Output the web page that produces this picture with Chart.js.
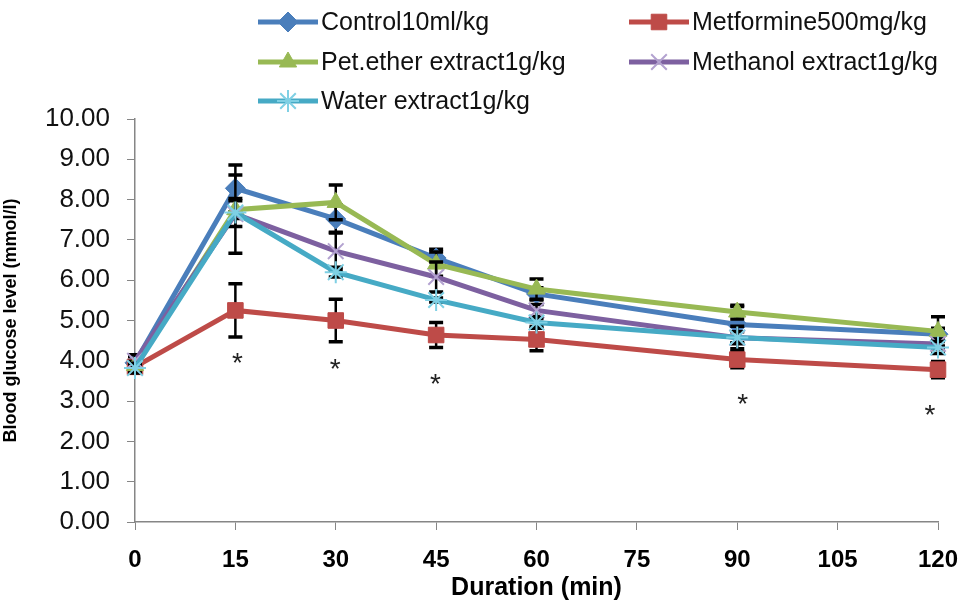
<!DOCTYPE html>
<html>
<head>
<meta charset="utf-8">
<title>Blood glucose level</title>
<script src="https://cdn.jsdelivr.net/npm/chart.js@4/dist/chart.umd.min.js"></script>
<style>
    html, body { margin: 0; padding: 0; background: #fff; }
    #wrap { width: 958px; height: 603px; position: relative; }
</style>
</head>
<body>
<div id="wrap"><canvas id="glucoseChart"></canvas></div>
<script>
// Durée (min) des mesures
const durations = [0, 15, 30, 45, 60, 90, 120];
const xTicks = [0, 15, 30, 45, 60, 75, 90, 105, 120];

const seriesNames = [
    'Control10ml/kg',
    'Metformine500mg/kg',
    'Pet.ether extract1g/kg',
    'Methanol extract1g/kg',
    'Water extract1g/kg'
];

// Glycémie moyenne (mmol/l)
const controlValues   = [3.95, 8.28, 7.52, 6.55, 5.66, 4.90, 4.66];
const metforminValues = [3.85, 5.25, 5.00, 4.64, 4.53, 4.03, 3.78];
const petEtherValues  = [3.88, 7.75, 7.93, 6.40, 5.78, 5.21, 4.73];
const methanolValues  = [4.00, 7.64, 6.72, 6.08, 5.25, 4.57, 4.42];
const waterValues     = [3.82, 7.68, 6.20, 5.51, 4.95, 4.58, 4.33];

// Barres d'erreur (+/-)
const controlErr   = [0.15, 0.58, 0.35, 0.22, 0.15, 0.45, 0.15];
const metforminErr = [0.15, 0.66, 0.53, 0.31, 0.28, 0.20, 0.20];
const petEtherErr  = [0.10, 0.22, 0.43, 0.30, 0.25, 0.17, 0.36];
const methanolErr  = [0.15, 0.97, 0.47, 0.37, 0.15, 0.15, 0.12];
const waterErr     = [0.12, 0.35, 0.12, 0.05, 0.10, 0.28, 0.15];

// Astérisques (différence significative)
const starX = [15.3, 29.9, 44.9, 90.8, 118.8];
const starY = [4.12, 3.97, 3.60, 3.10, 2.83];

const allValues = [controlValues, metforminValues, petEtherValues, methanolValues, waterValues];
const allErrors = [controlErr, metforminErr, petEtherErr, methanolErr, waterErr];
const colors = ['#4a7ebb', '#be4b48', '#98b954', '#7d60a0', '#46aac5'];
const markerColors = ['#4a7ebb', '#be4b48', '#98b954', '#b3a2d0', '#7fd0e4'];
const markers = ['rectRot', 'rect', 'triangle', 'crossRot', 'star'];
const markerSizes = [10, 11, 10, 11, 11];

const datasets = seriesNames.map((name, i) => ({
    label: name,
    data: durations.map((d, j) => ({ x: d, y: allValues[i][j] })),
    errors: allErrors[i],
    borderColor: colors[i],
    backgroundColor: markerColors[i],
    borderWidth: 5,
    pointStyle: markers[i],
    pointRadius: markerSizes[i],
    pointBackgroundColor: markerColors[i],
    pointBorderColor: markerColors[i],
    pointBorderWidth: i >= 3 ? 2 : 1,
    tension: 0,
    clip: false,
    // Excel dessine la dernière série par-dessus
    order: seriesNames.length - i
}));

const FONT = "'Liberation Sans', Arial, sans-serif";

// Barres d'erreur dessinées juste avant chaque série
const errorBarsPlugin = {
    id: 'errorBars',
    beforeDatasetDraw(chart, args) {
        const ds = chart.data.datasets[args.index];
        if (!ds.errors) return;
        const ctx = chart.ctx;
        const xs = chart.scales.x;
        const ys = chart.scales.y;
        ctx.save();
        ctx.strokeStyle = '#000';
        ds.data.forEach((p, j) => {
            const e = ds.errors[j];
            const px = xs.getPixelForValue(p.x);
            const top = ys.getPixelForValue(p.y + e);
            const bottom = ys.getPixelForValue(p.y - e);
            ctx.lineWidth = 2.5;
            ctx.beginPath();
            ctx.moveTo(px, top);
            ctx.lineTo(px, bottom);
            ctx.stroke();
            ctx.lineWidth = 3.5;
            ctx.beginPath();
            ctx.moveTo(px - 7, top);
            ctx.lineTo(px + 7, top);
            ctx.moveTo(px - 7, bottom);
            ctx.lineTo(px + 7, bottom);
            ctx.stroke();
        });
        ctx.restore();
    }
};

// Astérisques + légende sur deux colonnes
const extrasPlugin = {
    id: 'extras',
    afterDraw(chart) {
        const ctx = chart.ctx;
        const xs = chart.scales.x;
        const ys = chart.scales.y;
        ctx.save();

        ctx.fillStyle = '#222';
        ctx.font = '28px ' + FONT;
        ctx.textAlign = 'center';
        ctx.textBaseline = 'alphabetic';
        starX.forEach((sx, k) => {
            ctx.fillText('*', xs.getPixelForValue(sx), ys.getPixelForValue(starY[k]) + 16);
        });

        const colX = [258, 629];
        const rowY = [22, 62, 101];
        chart.data.datasets.forEach((ds, i) => {
            const x0 = colX[i % 2];
            const y = rowY[Math.floor(i / 2)];
            ctx.strokeStyle = ds.borderColor;
            ctx.lineWidth = 5;
            ctx.beginPath();
            ctx.moveTo(x0, y);
            ctx.lineTo(x0 + 60, y);
            ctx.stroke();
            ctx.fillStyle = ds.pointBackgroundColor;
            ctx.strokeStyle = ds.pointBorderColor;
            ctx.lineWidth = ds.pointBorderWidth;
            Chart.helpers.drawPoint(ctx, {
                pointStyle: ds.pointStyle,
                radius: ds.pointRadius,
                rotation: 0,
                borderWidth: ds.pointBorderWidth
            }, x0 + 30, y);
            ctx.fillStyle = '#111';
            ctx.font = '25px ' + FONT;
            ctx.textAlign = 'left';
            ctx.textBaseline = 'middle';
            ctx.fillText(ds.label, x0 + 63, y + 1);
        });
        ctx.restore();
    }
};

const ctx = document.getElementById('glucoseChart').getContext('2d');
new Chart(ctx, {
    type: 'line',
    data: { datasets: datasets },
    plugins: [errorBarsPlugin, extrasPlugin],
    options: {
        responsive: true,
        maintainAspectRatio: false,
        animation: false,
        layout: { padding: { top: 119, right: 20, left: 0, bottom: 0 } },
        plugins: {
            legend: { display: false },
            tooltip: { enabled: false }
        },
        scales: {
            x: {
                type: 'linear',
                min: 0,
                max: 120,
                afterBuildTicks: (scale) => {
                    scale.ticks = xTicks.map(v => ({ value: v }));
                },
                afterFit: (scale) => {
                    scale.height = 81;
                    // le padding des ticks ne doit pas rogner la zone à droite
                    scale.paddingLeft = 0;
                    scale.paddingRight = 20;
                },
                grid: {
                    drawOnChartArea: false,
                    drawTicks: true,
                    tickLength: 8,
                    color: '#868686'
                },
                border: { color: '#868686', width: 1.5 },
                ticks: {
                    padding: 16,
                    color: '#000',
                    font: { family: FONT, size: 24, weight: 'bold' }
                },
                title: {
                    display: true,
                    text: 'Duration (min)',
                    color: '#000',
                    padding: { top: 0, bottom: 0 },
                    font: { family: FONT, size: 25, weight: 'bold' }
                }
            },
            y: {
                min: 0,
                max: 10,
                afterFit: (scale) => { scale.width = 135; },
                grid: {
                    drawOnChartArea: false,
                    drawTicks: true,
                    tickLength: 8,
                    color: '#868686'
                },
                border: { color: '#868686', width: 1.5 },
                ticks: {
                    stepSize: 1,
                    padding: 17,
                    color: '#111',
                    font: { family: FONT, size: 26 },
                    callback: (v) => Number(v).toFixed(2)
                },
                title: {
                    display: true,
                    text: 'Blood glucose level (mmol/l)',
                    color: '#000',
                    padding: { top: 0, bottom: 7 },
                    font: { family: FONT, size: 18, weight: 'bold' }
                }
            }
        }
    }
});
</script>
</body>
</html>
